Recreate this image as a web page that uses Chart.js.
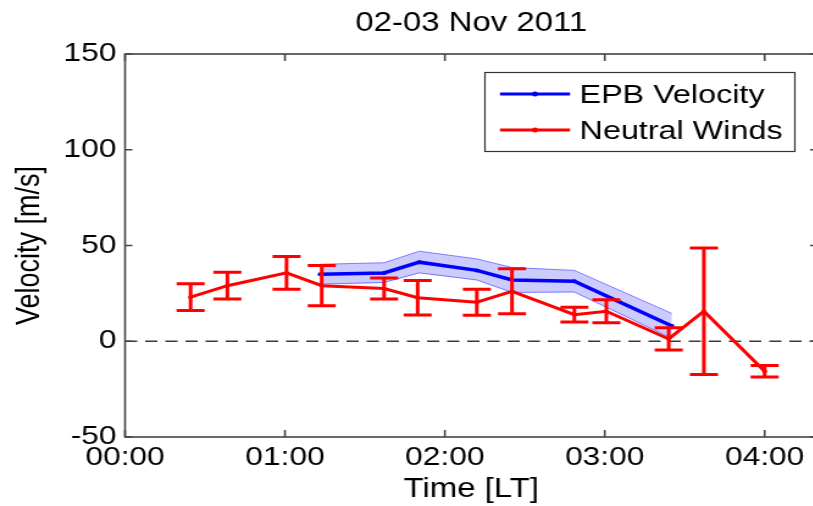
<!DOCTYPE html>
<html lang="en">
  <head>
    <meta charset="utf-8">
    <title>02-03 Nov 2011</title>
    <style>
      html, body { margin: 0; padding: 0; background: #fff; overflow: hidden; }
      #frame { width: 813px; height: 506px; overflow: hidden; }
      /* the original figure is stretched sideways, so the whole canvas is too */
      #stretch { width: 680px; height: 506px; transform: scaleX(1.22); transform-origin: 0 0; }
    </style>
  </head>
  <body>
    <div id="frame">
      <div id="stretch">
        <canvas id="myChart" width="680" height="506"></canvas>
      </div>
    </div>

    <script src="https://cdn.jsdelivr.net/npm/chart.js"></script>

    <script>
      // times are hours after local midnight
      var seriesNames = ["EPB Velocity", "Neutral Winds"];

      var windTimes = [0.41, 0.64, 1.01, 1.23, 1.62, 1.83, 2.20, 2.42, 2.81, 3.01, 3.40, 3.62, 4.00];
      var windSpeed = [23, 29, 35.7, 29, 27.5, 22.7, 20.4, 26.1, 13.9, 15.7, 1.2, 15.7, -15.7];
      var windErr = [7, 7, 8.5, 10.5, 5.5, 9, 6.8, 11.8, 3.8, 6, 5.8, 33, 3];

      var epbTimes = [1.22, 1.62, 1.84, 2.20, 2.42, 2.81, 3.42];
      var epbSpeed = [35, 35.7, 41.3, 37, 32, 31.3, 8];
      var epbLower = [29.8, 30.7, 35.7, 32, 25.5, 25.7, 1.5];
      var epbUpper = [40.2, 41, 47, 43, 38.5, 37, 14.5];

      var xTickValues = [0, 1, 2, 3, 4];
      var xTickLabels = ["00:00", "01:00", "02:00", "03:00", "04:00"];
      var yTickValues = [-50, 0, 50, 100, 150];

      var FONT = "'Liberation Sans', Arial, sans-serif";

      function pts(xs, ys) {
        return xs.map((x, i) => ({ x: x, y: ys[i] }));
      }

      // box, inward ticks, zero line, error bars and the boxed legend
      var matlabLook = {
        id: "matlabLook",
        beforeDatasetsDraw(chart) {
          const { ctx, chartArea: a, scales: { y } } = chart;
          const y0 = y.getPixelForValue(0);
          ctx.save();
          ctx.strokeStyle = "#3a3a3a";
          ctx.lineWidth = 1.6;
          ctx.setLineDash([10, 6.5]);
          ctx.beginPath();
          ctx.moveTo(a.left, y0);
          ctx.lineTo(a.right, y0);
          ctx.stroke();
          ctx.restore();
        },
        afterDatasetsDraw(chart) {
          const { ctx, scales: { x, y } } = chart;
          ctx.save();
          ctx.strokeStyle = "#ff0000";
          ctx.lineWidth = 3;
          windTimes.forEach((t, i) => {
            const px = x.getPixelForValue(t);
            const top = y.getPixelForValue(windSpeed[i] + windErr[i]);
            const bot = y.getPixelForValue(windSpeed[i] - windErr[i]);
            ctx.beginPath();
            ctx.moveTo(px, top);
            ctx.lineTo(px, bot);
            ctx.moveTo(px - 11.5, top);
            ctx.lineTo(px + 11.5, top);
            ctx.moveTo(px - 11.5, bot);
            ctx.lineTo(px + 11.5, bot);
            ctx.stroke();
          });
          ctx.restore();
        },
        afterDraw(chart) {
          const { ctx, chartArea: a, scales: { x, y } } = chart;
          ctx.save();
          ctx.strokeStyle = "#444";
          ctx.lineWidth = 1.6;
          ctx.strokeRect(a.left, a.top, a.right - a.left, a.bottom - a.top);
          ctx.beginPath();
          xTickValues.forEach((v) => {
            const px = x.getPixelForValue(v);
            ctx.moveTo(px, a.bottom);
            ctx.lineTo(px, a.bottom - 7);
            ctx.moveTo(px, a.top);
            ctx.lineTo(px, a.top + 7);
          });
          yTickValues.forEach((v) => {
            const py = y.getPixelForValue(v);
            ctx.moveTo(a.left, py);
            ctx.lineTo(a.left + 6, py);
            ctx.moveTo(a.right, py);
            ctx.lineTo(a.right - 6, py);
          });
          ctx.stroke();

          // legend
          ctx.fillStyle = "#fff";
          ctx.fillRect(397.5, 72.5, 254, 79);
          ctx.strokeStyle = "#333";
          ctx.lineWidth = 1.2;
          ctx.strokeRect(397.5, 72.5, 254, 79);
          const colors = ["#0000ff", "#ff0000"];
          const rows = [94, 130];
          ctx.font = "26.5px " + FONT;
          ctx.textBaseline = "middle";
          seriesNames.forEach((name, i) => {
            ctx.strokeStyle = colors[i];
            ctx.fillStyle = colors[i];
            ctx.lineWidth = 3;
            ctx.beginPath();
            ctx.moveTo(409.8, rows[i]);
            ctx.lineTo(467.2, rows[i]);
            ctx.stroke();
            ctx.beginPath();
            ctx.arc(438.5, rows[i], 2.5, 0, Math.PI * 2);
            ctx.fill();
            ctx.fillStyle = "#000";
            ctx.fillText(name, 475, rows[i] + 2);
          });
          ctx.restore();
        },
      };

      const ctx = document.getElementById("myChart");
      new Chart(ctx, {
        type: "line",
        data: {
          datasets: [
            {
              label: seriesNames[1],
              data: pts(windTimes, windSpeed),
              borderColor: "#ff0000",
              backgroundColor: "#ff0000",
              borderWidth: 3,
              pointRadius: 2,
              pointBorderWidth: 0,
              fill: false,
            },
            {
              label: seriesNames[0],
              data: pts(epbTimes, epbSpeed),
              borderColor: "#0000ff",
              backgroundColor: "#0000ff",
              borderWidth: 3.5,
              pointRadius: 2,
              pointBorderWidth: 0,
              fill: false,
            },
            {
              label: "EPB upper",
              data: pts(epbTimes, epbUpper),
              borderColor: "rgba(90, 90, 255, 0.75)",
              borderWidth: 1,
              pointRadius: 0,
              backgroundColor: "rgba(0, 0, 240, 0.2)",
              fill: "+1",
            },
            {
              label: "EPB lower",
              data: pts(epbTimes, epbLower),
              borderColor: "rgba(90, 90, 255, 0.75)",
              borderWidth: 1,
              pointRadius: 0,
              fill: false,
            },
          ],
        },
        options: {
          responsive: false,
          animation: false,
          devicePixelRatio: 1,
          layout: { padding: { left: 0, right: 10, top: 0, bottom: 0 } },
          plugins: {
            legend: { display: false },
            tooltip: { enabled: false },
            title: {
              display: true,
              text: "02-03 Nov 2011",
              color: "#000",
              fullSize: false,
              font: { family: FONT, size: 27, weight: "normal" },
              padding: { top: 7, bottom: 14.6 },
            },
          },
          scales: {
            x: {
              type: "linear",
              min: 0,
              max: 4.33,
              grid: { display: false, drawTicks: false },
              border: { display: false },
              afterBuildTicks: (scale) => {
                scale.ticks = xTickValues.map((v) => ({ value: v }));
              },
              afterFit: (scale) => {
                scale.height = 69;
              },
              ticks: {
                autoSkip: false,
                maxRotation: 0,
                padding: 5.5,
                color: "#000",
                font: { family: FONT, size: 26 },
                callback: (value, index) => xTickLabels[index],
              },
              title: {
                display: true,
                text: "Time [LT]",
                color: "#000",
                font: { family: FONT, size: 27 },
                padding: { top: 0, bottom: 0 },
              },
            },
            y: {
              min: -50,
              max: 150,
              grid: { display: false, drawTicks: false },
              border: { display: false },
              afterBuildTicks: (scale) => {
                scale.ticks = yTickValues.map((v) => ({ value: v }));
              },
              afterFit: (scale) => {
                scale.width = 102.5;
              },
              ticks: {
                padding: 7,
                color: "#000",
                font: { family: FONT, size: 26 },
              },
              title: {
                display: true,
                text: "Velocity [m/s]",
                color: "#000",
                font: { family: FONT, size: 27 },
                padding: { top: 8, bottom: 0 },
              },
            },
          },
        },
        plugins: [matlabLook],
      });
    </script>
  </body>
</html>
